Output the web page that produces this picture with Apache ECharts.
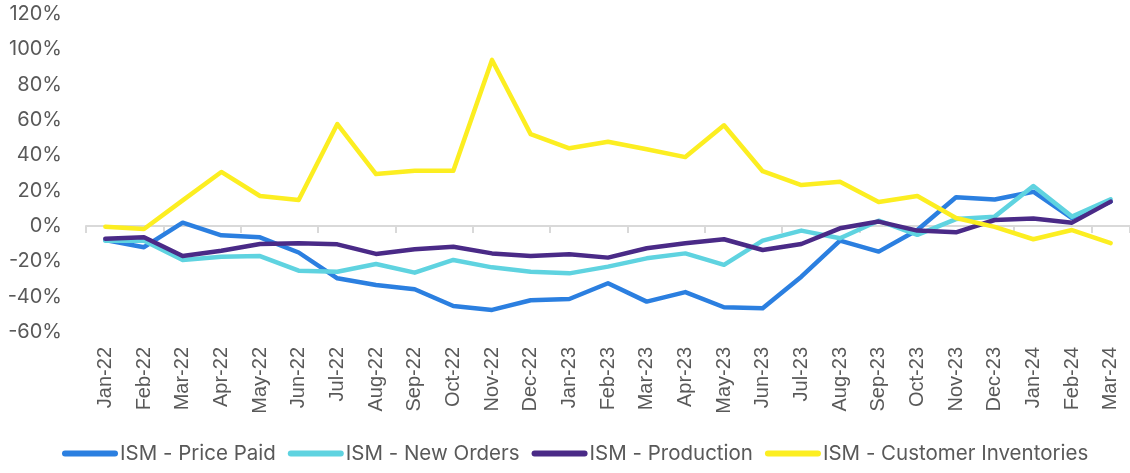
<!DOCTYPE html>
<html>
<head>
<meta charset="utf-8">
<script src="https://cdn.jsdelivr.net/npm/echarts@6/dist/echarts.min.js"></script>
<style>
html,body{margin:0;padding:0;background:#fff;}
#chart{width:1130px;height:473px;}
</style>
</head>
<body>
<div id="chart"></div>
<script>
const categories = ['Jan-22','Feb-22','Mar-22','Apr-22','May-22','Jun-22','Jul-22','Aug-22','Sep-22','Oct-22','Nov-22','Dec-22','Jan-23','Feb-23','Mar-23','Apr-23','May-23','Jun-23','Jul-23','Aug-23','Sep-23','Oct-23','Nov-23','Dec-23','Jan-24','Feb-24','Mar-24'];
const pricePaid = [-8,-12,1.9,-5.3,-6.4,-15,-29.6,-33.4,-35.8,-45.3,-47.5,-42,-41.3,-32.4,-42.8,-37.4,-46,-46.6,-28.7,-8.3,-14.5,-2.3,16.3,15,19.4,4.5,13.8];
const newOrders = [-8.3,-8.3,-19.2,-17.4,-17,-25.3,-25.9,-21.5,-26.4,-19.2,-23.4,-25.9,-26.8,-23,-18.3,-15.5,-22,-8.3,-2.6,-6.9,3,-5,3.9,5.3,22.6,5.3,15.1];
const production = [-7.2,-6.4,-17,-14,-10.2,-9.8,-10.4,-15.8,-13.2,-11.7,-15.5,-17,-16,-17.9,-12.6,-9.8,-7.5,-13.6,-10.2,-1.3,2.5,-2.6,-3.6,3.4,4.3,1.9,13.8];
const customerInventories = [-0.4,-1.7,14.5,30.6,17,14.7,57.7,29.4,31.3,31.3,94,52,44,47.7,43.4,39,57,31,23.2,25,13.6,17,4.5,-0.5,-7.5,-2.3,-9.7];
const seriesNames = ['ISM - Price Paid','ISM - New Orders','ISM - Production','ISM - Customer Inventories'];
const seriesColors = ['#2B7FE0','#5FD3E0','#4A2A87','#FCEE21'];
const yTicks = {min:-60, max:120, interval:20};

const chart = echarts.init(document.getElementById('chart'), null, {renderer:'canvas'});
const dataSets = [pricePaid, newOrders, production, customerInventories];
const capsule = 'path://M3,0 H53 A3,3 0 0 1 53,6 H3 A3,3 0 0 1 3,0 Z';
chart.setOption({
  animation:false,
  backgroundColor:'#fff',
  grid:{left:86,right:0,top:14,bottom:141,containLabel:false},
  legend:{
    bottom:4, left:57,
    itemWidth:56, itemHeight:6, itemGap:12,
    icon:capsule,
    textStyle:{fontFamily:'Inter', fontSize:20.5, color:'#595959', padding:[0,0,0,-3]},
    data:seriesNames
  },
  xAxis:[{
    type:'category', data:categories, boundaryGap:true, position:'bottom',
    axisLine:{show:false, onZero:false}, axisTick:{show:false},
    axisLabel:{rotate:90, interval:0, margin:15, fontFamily:'Liberation Sans', fontSize:20, color:'#595959'}
  },{
    type:'category', data:categories, boundaryGap:true, position:'bottom',
    axisLine:{show:true, onZero:true, lineStyle:{color:'#d9d9d9', width:2}},
    axisTick:{show:true, inside:false, length:7, lineStyle:{color:'#d9d9d9', width:2}},
    axisLabel:{show:false}
  }],
  yAxis:{
    type:'value', min:yTicks.min, max:yTicks.max, interval:yTicks.interval,
    axisLine:{show:false}, axisTick:{show:false}, splitLine:{show:false},
    axisLabel:{formatter:'{value}%', margin:24, fontFamily:'Inter', fontSize:20, color:'#595959'}
  },
  series: seriesNames.map((n,i)=>({
    name:n, type:'line', data:dataSets[i], xAxisIndex:0,
    symbol:'none', smooth:false,
    lineStyle:{width:4.5, color:seriesColors[i], cap:'round', join:'round'},
    itemStyle:{color:seriesColors[i]}
  }))
});
</script>
</body>
</html>
